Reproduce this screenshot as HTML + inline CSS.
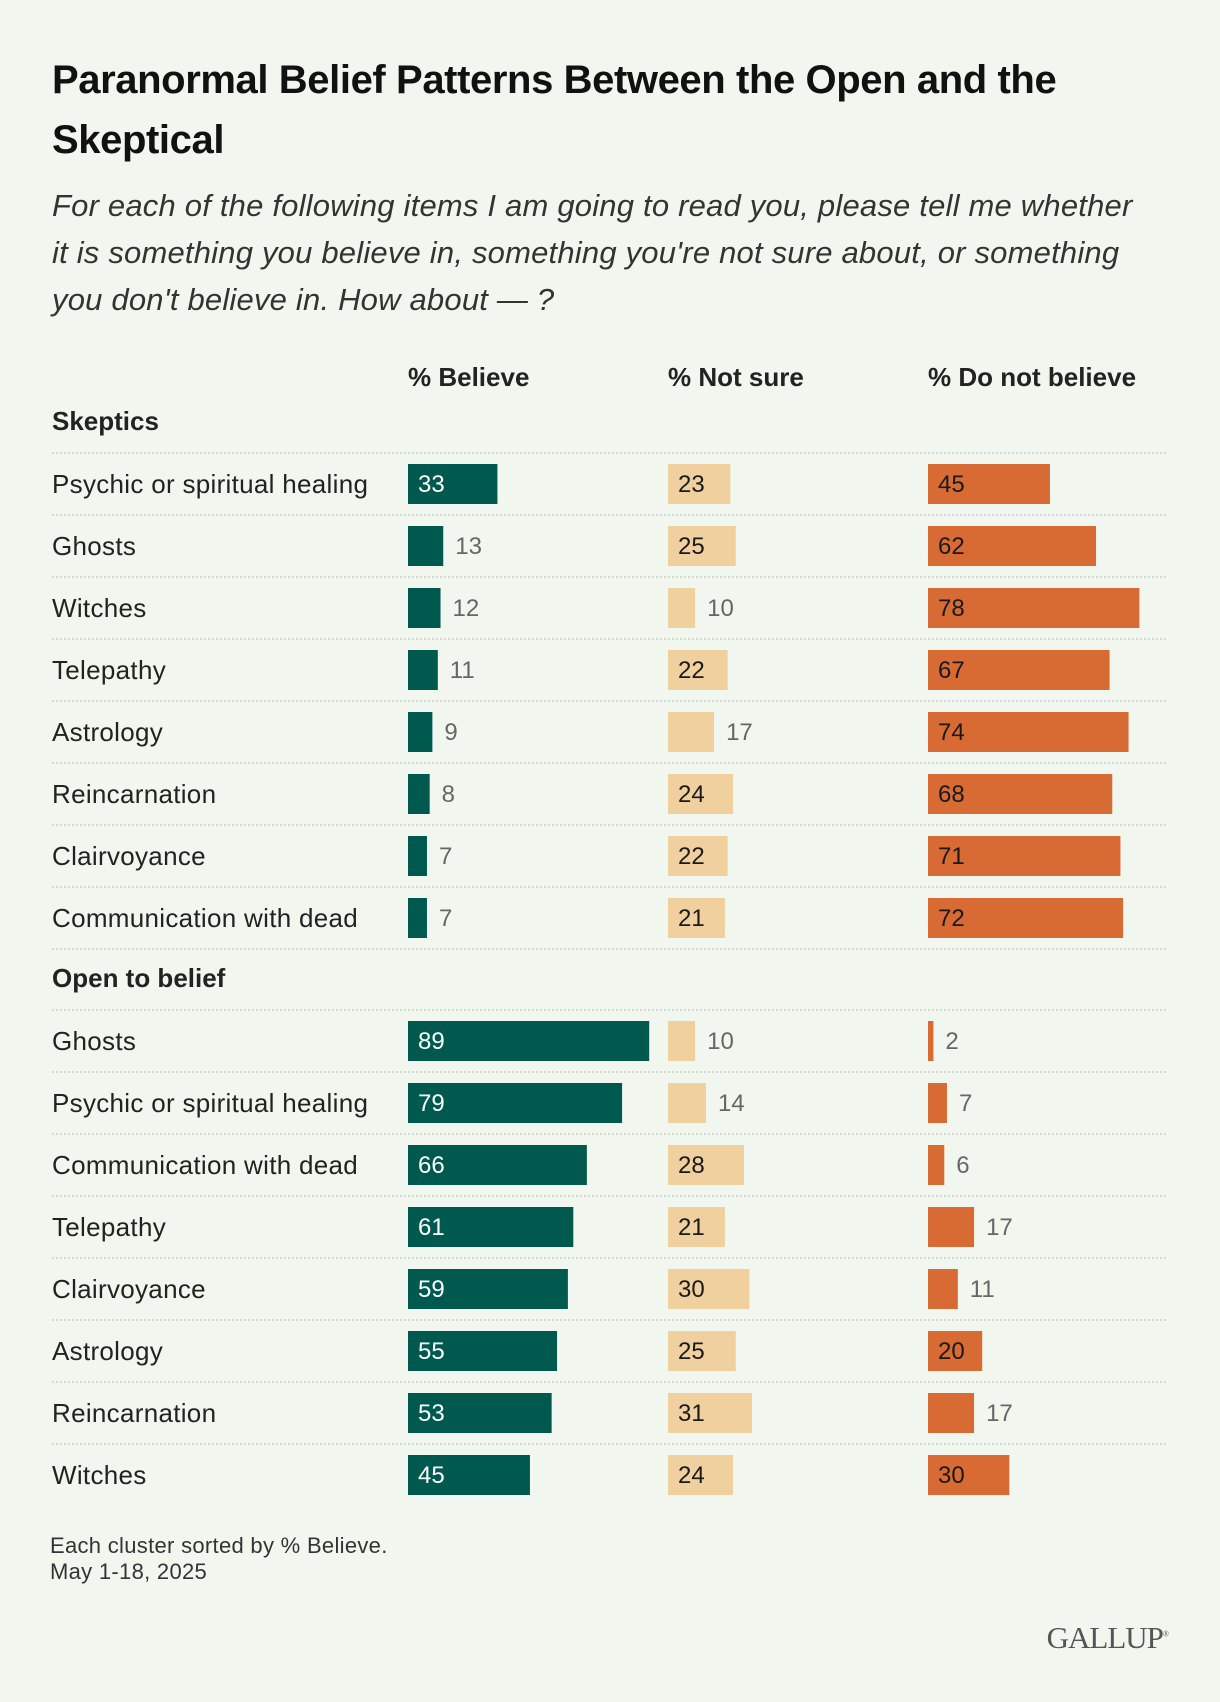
<!DOCTYPE html>
<html><head><meta charset="utf-8">
<style>
html,body{margin:0;padding:0}
body{width:1220px;height:1702px;background:#f1f7ef;position:relative;overflow:hidden;font-family:"Liberation Sans",sans-serif;color:#222}
.t{position:absolute;white-space:nowrap}
</style></head><body>
<div class="t" style="left:52px;top:50px;font-size:40px;font-weight:bold;color:#111;line-height:60px;letter-spacing:-0.4px">Paranormal Belief Patterns Between the Open and the<br>Skeptical</div>
<div class="t" style="left:52px;top:182px;font-size:31px;font-style:italic;color:#333;line-height:47px;letter-spacing:0.2px">For each of the following items I am going to read you, please tell me whether<br>it is something you believe in, something you're not sure about, or something<br>you don't believe in. How about — ?</div>
<svg id="chart" width="1220" height="1702" style="position:absolute;left:0;top:0"></svg>
<div class="t" style="left:50px;top:1533px;font-size:22px;color:#333;line-height:26px;letter-spacing:0.3px">Each cluster sorted by % Believe.<br>May 1-18, 2025</div>
<div class="t" style="right:52px;top:1620px;font-family:'Liberation Serif',serif;font-size:31px;color:#555;letter-spacing:-1px">GALLUP<sup style="font-size:8px">®</sup></div>
<script>
const groups=["Skeptics","Open to belief"];
const skepticItems=["Psychic or spiritual healing","Ghosts","Witches","Telepathy","Astrology","Reincarnation","Clairvoyance","Communication with dead"];
const skepticBelieve=[33,13,12,11,9,8,7,7];
const skepticNotSure=[23,25,10,22,17,24,22,21];
const skepticDoNot=[45,62,78,67,74,68,71,72];
const openItems=["Ghosts","Psychic or spiritual healing","Communication with dead","Telepathy","Clairvoyance","Astrology","Reincarnation","Witches"];
const openBelieve=[89,79,66,61,59,55,53,45];
const openNotSure=[10,14,28,21,30,25,31,24];
const openDoNot=[2,7,6,17,11,20,17,30];
const columns=["% Believe","% Not sure","% Do not believe"];

const NS="http://www.w3.org/2000/svg";
const svg=document.getElementById('chart');
const colX=[408,668,928];
const colors=["#00594f","#f0d09e","#d86a33"];
const inText=["#ffffff","#1a1a1a","#1a1a1a"];
const scale=v=>v*2.71;
function add(tag,attrs,txt){const e=document.createElementNS(NS,tag);for(const k in attrs)e.setAttribute(k,attrs[k]);if(txt!==undefined)e.textContent=txt;svg.appendChild(e);return e;}
function rule(y){const l=add('line',{x1:52,x2:1167,y1:y,y2:y,stroke:'#c9cfc7','stroke-width':1.5,'stroke-dasharray':'2 2'});

}
columns.forEach((c,i)=>{const t=add('text',{x:colX[i],y:386,'font-size':26,'font-weight':'bold',fill:'#222'},c);

});
function drawGroup(name,headY,firstTop,items,series,lastRule){
  const h=add('text',{x:52,y:headY+9,'font-size':26,'font-weight':'bold',fill:'#222'},name);
  
  
  rule(firstTop-11);
  items.forEach((it,i)=>{
    const top=firstTop+i*62, cy=top+20;
    const lb=add('text',{x:52,y:cy+9,'font-size':26,fill:'#222','letter-spacing':0.3},it);
    
    
    series.forEach((s,j)=>{
      const v=s[i], w=scale(v);
      const r=add('rect',{x:colX[j],y:top,width:w,height:40,fill:colors[j]});
      
      
      const inside=v>=18;
      const tx=add('text',{x:inside?colX[j]+10:colX[j]+w+12,y:cy+8,'font-size':24,fill:inside?inText[j]:'#666'},String(v));
      
      
    });
    if(i<items.length-1||lastRule) rule(top+51);
  });
}
drawGroup(groups[0],421,464,skepticItems,[skepticBelieve,skepticNotSure,skepticDoNot],true);
drawGroup(groups[1],978,1021,openItems,[openBelieve,openNotSure,openDoNot],false);
</script>
</body></html>
